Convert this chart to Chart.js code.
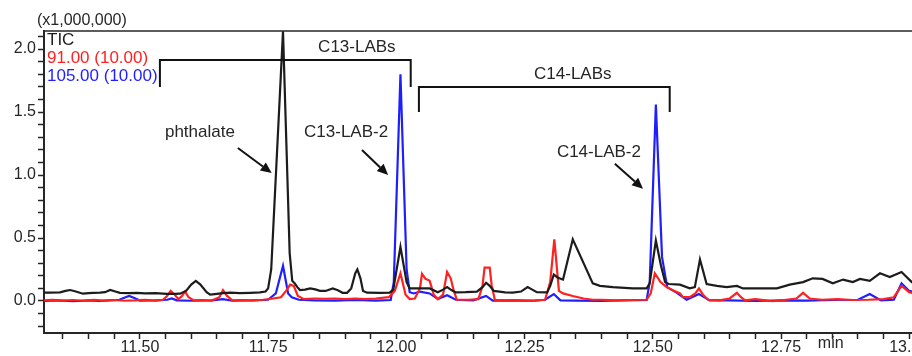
<!DOCTYPE html>
<html>
<head>
<meta charset="utf-8">
<script src="https://cdn.jsdelivr.net/npm/chart.js@4/dist/chart.umd.min.js"></script>
<style>
  html, body { margin: 0; padding: 0; background: #fff; overflow: hidden; }
  #wrap { width: 940px; height: 356px; }
</style>
</head>
<body>
<div id="wrap"><canvas id="c" width="940" height="356"></canvas></div>
<script>
// Retention time (min) / intensity (x1,000,000) pairs for each trace
const ticTime = [11.313,11.325,11.344,11.355,11.364,11.375,11.389,11.400,11.409,11.422,11.432,11.442,11.452,11.461,11.479,11.494,11.510,11.530,11.553,11.568,11.578,11.590,11.600,11.609,11.618,11.630,11.637,11.646,11.662,11.676,11.695,11.715,11.734,11.745,11.750,11.756,11.779,11.792,11.797,11.802,11.807,11.812,11.822,11.832,11.842,11.851,11.862,11.876,11.886,11.895,11.904,11.912,11.920,11.924,11.930,11.935,11.943,11.968,11.987,11.994,12.008,12.020,12.026,12.036,12.050,12.065,12.081,12.091,12.099,12.108,12.116,12.135,12.157,12.168,12.175,12.182,12.190,12.212,12.227,12.243,12.256,12.265,12.274,12.294,12.300,12.307,12.315,12.325,12.344,12.383,12.397,12.422,12.461,12.488,12.494,12.506,12.516,12.524,12.531,12.553,12.572,12.582,12.592,12.605,12.625,12.644,12.664,12.676,12.709,12.742,12.767,12.793,12.812,12.831,12.851,12.871,12.890,12.904,12.923,12.943,12.962,12.985,13.005,13.021,13.060];
const ticValue = [0.066,0.066,0.068,0.080,0.087,0.075,0.058,0.062,0.065,0.066,0.070,0.087,0.075,0.065,0.062,0.065,0.060,0.062,0.056,0.056,0.058,0.080,0.130,0.160,0.130,0.070,0.050,0.055,0.062,0.066,0.062,0.065,0.068,0.075,0.100,0.250,2.140,0.380,0.160,0.140,0.110,0.087,0.090,0.100,0.092,0.080,0.080,0.100,0.085,0.065,0.065,0.100,0.220,0.250,0.180,0.080,0.066,0.064,0.066,0.090,0.430,0.150,0.100,0.100,0.100,0.100,0.070,0.090,0.110,0.085,0.068,0.070,0.075,0.110,0.145,0.120,0.080,0.068,0.066,0.075,0.110,0.090,0.070,0.068,0.120,0.210,0.185,0.170,0.490,0.140,0.120,0.110,0.100,0.100,0.140,0.480,0.280,0.150,0.135,0.130,0.100,0.110,0.330,0.135,0.120,0.110,0.120,0.100,0.100,0.100,0.130,0.150,0.180,0.175,0.140,0.170,0.150,0.175,0.160,0.220,0.190,0.230,0.150,0.140,0.140];

const m91Time = [11.313,11.330,11.350,11.370,11.390,11.410,11.430,11.450,11.470,11.490,11.510,11.530,11.545,11.553,11.560,11.568,11.575,11.582,11.588,11.595,11.605,11.620,11.640,11.655,11.662,11.670,11.680,11.700,11.720,11.740,11.760,11.775,11.785,11.793,11.800,11.808,11.820,11.840,11.860,11.880,11.900,11.920,11.940,11.960,11.985,11.997,12.008,12.018,12.026,12.036,12.046,12.050,12.057,12.060,12.065,12.073,12.081,12.091,12.099,12.106,12.112,12.118,12.140,12.160,12.168,12.172,12.182,12.186,12.192,12.210,12.230,12.250,12.270,12.290,12.300,12.308,12.317,12.325,12.344,12.365,12.383,12.400,12.430,12.460,12.488,12.496,12.504,12.515,12.527,12.539,12.553,12.559,12.572,12.583,12.590,12.598,12.608,12.630,12.650,12.664,12.672,12.680,12.700,12.720,12.734,12.760,12.780,12.793,12.806,12.830,12.860,12.890,12.920,12.950,12.970,12.985,13.000,13.021,13.060];
const m91Value = [0.005,0.010,0.003,0.008,0.002,0.010,0.003,0.008,0.002,0.005,0.010,0.003,0.010,0.040,0.080,0.050,0.015,0.040,0.075,0.030,0.005,0.008,0.003,0.030,0.087,0.040,0.005,0.008,0.005,0.010,0.020,0.030,0.080,0.130,0.120,0.040,0.015,0.020,0.018,0.020,0.015,0.020,0.015,0.020,0.030,0.080,0.220,0.050,0.015,0.020,0.100,0.215,0.175,0.170,0.160,0.050,0.015,0.050,0.230,0.180,0.080,0.010,0.010,0.015,0.120,0.265,0.265,0.120,0.010,0.005,0.008,0.003,0.005,0.010,0.150,0.490,0.080,0.060,0.040,0.020,0.010,0.010,0.005,0.008,0.010,0.060,0.220,0.150,0.110,0.085,0.060,0.030,0.030,0.060,0.100,0.050,0.010,0.005,0.020,0.065,0.030,0.005,0.015,0.005,-0.002,0.010,0.020,0.065,0.020,0.010,0.015,0.008,0.010,0.015,0.030,0.120,0.070,0.050,0.050];

const m105Time = [11.313,11.340,11.370,11.400,11.420,11.440,11.460,11.472,11.479,11.488,11.500,11.530,11.553,11.562,11.572,11.600,11.640,11.662,11.680,11.720,11.750,11.765,11.779,11.789,11.796,11.810,11.840,11.880,11.920,11.960,11.989,11.995,12.008,12.020,12.026,12.034,12.046,12.065,12.081,12.099,12.116,12.150,12.175,12.188,12.230,12.270,12.290,12.307,12.320,12.350,12.400,12.440,12.488,12.494,12.506,12.518,12.528,12.547,12.566,12.590,12.611,12.650,12.700,12.750,12.800,12.850,12.900,12.923,12.945,12.970,12.985,13.000,13.021,13.060];
const m105Value = [0.000,0.005,-0.002,0.005,0.000,0.005,0.010,0.030,0.040,0.025,0.003,0.005,0.010,0.020,0.005,0.002,0.005,0.015,0.002,0.005,0.010,0.060,0.280,0.060,0.030,0.010,0.005,0.003,0.008,0.003,0.008,0.150,1.800,0.250,0.070,0.060,0.075,0.060,0.015,0.045,0.010,0.005,0.040,0.003,0.005,0.002,0.010,0.055,0.005,0.003,0.000,0.005,0.008,0.150,1.560,0.350,0.110,0.065,0.010,0.055,0.005,0.005,0.000,0.005,0.003,0.008,0.010,0.055,0.005,0.010,0.140,0.080,0.060,0.060];

// Axis ranges and tick steps
const xMin = 11.313, xMax = 13.060, xStep = 0.05, xLabelEvery = 0.25;
const yMin = -0.254, yMax = 2.143, yStep = 0.1, yLabelEvery = 0.5;

const pairs = (t, v) => t.map((x, i) => ({ x, y: v[i] }));

const INK = '#262626';
const FONT = '"Liberation Sans", Arial, sans-serif';

// Brackets, labels and arrows placed in data coordinates
const notes = {
  brackets: [
    { x0: 11.539, x1: 12.028, yTop: 1.913, yLeg: 1.698, label: 'C13-LABs', lx: 11.923, ly: 2.016 },
    { x0: 12.044, x1: 12.533, yTop: 1.698, yLeg: 1.500, label: 'C14-LABs', lx: 12.344, ly: 1.802 }
  ],
  arrows: [
    { label: 'phthalate', lx: 11.617, ly: 1.335, from: [11.691, 1.214], to: [11.757, 1.016] },
    { label: 'C13-LAB-2', lx: 11.902, ly: 1.335, from: [11.933, 1.198], to: [11.984, 1.000] },
    { label: 'C14-LAB-2', lx: 12.395, ly: 1.180, from: [12.426, 1.090], to: [12.481, 0.890] }
  ]
};

const decorations = {
  id: 'decorations',
  afterDraw(chart) {
    const { ctx, chartArea: a, scales: { x, y } } = chart;
    const px = v => x.getPixelForValue(v), py = v => y.getPixelForValue(v);
    ctx.save();
    // top frame line
    ctx.strokeStyle = INK; ctx.lineWidth = 1.5;
    ctx.beginPath(); ctx.moveTo(a.left, a.top); ctx.lineTo(a.right, a.top); ctx.stroke();

    // unit label and x unit
    ctx.fillStyle = INK; ctx.font = '16px ' + FONT;
    ctx.textAlign = 'left'; ctx.textBaseline = 'middle';
    ctx.fillText('(x1,000,000)', 37, 21);
    ctx.textAlign = 'center';
    ctx.fillText('min', px(12.847), a.bottom + 11);

    // trace names
    ctx.font = '17px ' + FONT; ctx.textAlign = 'left';
    chart.data.datasets.slice().sort((p, q) => p.legendRank - q.legendRank).forEach((ds, i) => {
      ctx.fillStyle = ds.borderColor;
      ctx.fillText(ds.label, a.left + 3, a.top + 9 + i * 18);
    });

    // brackets
    ctx.strokeStyle = '#111'; ctx.lineWidth = 2; ctx.fillStyle = INK;
    notes.brackets.forEach(b => {
      ctx.beginPath();
      ctx.moveTo(px(b.x0), py(b.yLeg)); ctx.lineTo(px(b.x0), py(b.yTop));
      ctx.lineTo(px(b.x1), py(b.yTop)); ctx.lineTo(px(b.x1), py(b.yLeg));
      ctx.stroke();
      ctx.textAlign = 'center';
      ctx.fillText(b.label, px(b.lx), py(b.ly));
    });

    // arrows
    notes.arrows.forEach(n => {
      ctx.fillStyle = INK; ctx.textAlign = 'center';
      ctx.fillText(n.label, px(n.lx), py(n.ly));
      const x0 = px(n.from[0]), y0 = py(n.from[1]), x1 = px(n.to[0]), y1 = py(n.to[1]);
      const ang = Math.atan2(y1 - y0, x1 - x0), L = 11, W = 5;
      const bx = x1 - L * Math.cos(ang), by = y1 - L * Math.sin(ang);
      ctx.strokeStyle = '#111'; ctx.lineWidth = 2;
      ctx.beginPath(); ctx.moveTo(x0, y0); ctx.lineTo(bx, by); ctx.stroke();
      ctx.fillStyle = '#111';
      ctx.beginPath();
      ctx.moveTo(x1, y1);
      ctx.lineTo(bx + W * Math.sin(ang), by - W * Math.cos(ang));
      ctx.lineTo(bx - W * Math.sin(ang), by + W * Math.cos(ang));
      ctx.closePath(); ctx.fill();
    });
    ctx.restore();
  }
};

const isMultiple = (v, step) => Math.abs(v / step - Math.round(v / step)) < 1e-6;

new Chart(document.getElementById('c'), {
  type: 'line',
  data: {
    datasets: [
      { label: 'TIC', legendRank: 0, data: pairs(ticTime, ticValue), borderColor: 'rgb(28,28,28)', order: 0 },
      { label: '91.00 (10.00)', legendRank: 1, data: pairs(m91Time, m91Value), borderColor: 'rgb(255,32,32)', order: 1 },
      { label: '105.00 (10.00)', legendRank: 2, data: pairs(m105Time, m105Value), borderColor: 'rgb(30,30,255)', order: 2 }
    ]
  },
  options: {
    responsive: false,
    animation: false,
    devicePixelRatio: 1,
    parsing: false,
    elements: {
      line: { borderWidth: 2.2, tension: 0, fill: false },
      point: { radius: 0 }
    },
    layout: { padding: { top: 31, right: 0, bottom: 0, left: 0 } },
    plugins: { legend: { display: false }, tooltip: { enabled: false } },
    scales: {
      x: {
        type: 'linear', min: xMin, max: xMax,
        afterFit: s => { s.height = 23; },
        border: { color: INK, width: 2 },
        grid: { drawOnChartArea: false, drawTicks: true, tickLength: 6, tickColor: INK, tickWidth: 1.5 },
        ticks: {
          stepSize: xStep, includeBounds: false, autoSkip: false, maxRotation: 0, minRotation: 0,
          padding: -1, color: INK, font: { family: FONT, size: 16 },
          callback: v => isMultiple(v, xLabelEvery) ? v.toFixed(2) : ''
        }
      },
      y: {
        type: 'linear', min: yMin, max: yMax,
        afterFit: s => { s.width = 44; },
        border: { color: INK, width: 2 },
        grid: { drawOnChartArea: false, drawTicks: true, tickLength: 6, tickColor: INK, tickWidth: 1.5 },
        ticks: {
          stepSize: yStep, includeBounds: false, autoSkip: false,
          padding: 2, color: INK, font: { family: FONT, size: 16 },
          callback: v => isMultiple(v, yLabelEvery) ? v.toFixed(1) : ''
        }
      }
    }
  },
  plugins: [decorations]
});
</script>
</body>
</html>
